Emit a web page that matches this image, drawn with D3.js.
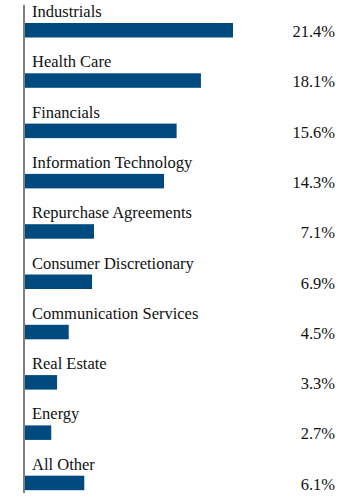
<!DOCTYPE html>
<html><head><meta charset="utf-8">
<script src="https://cdn.jsdelivr.net/npm/d3@7"></script>
<style>html,body{margin:0;padding:0;background:#fff;}svg{display:block;}
text{font-family:"Liberation Serif","Times New Roman","DejaVu Serif",serif;}</style>
</head><body>
<svg id="chart" width="360" height="497"></svg>
<script>
const categories = ["Industrials","Health Care","Financials","Information Technology","Repurchase Agreements","Consumer Discretionary","Communication Services","Real Estate","Energy","All Other"];
const values = [21.4,18.1,15.6,14.3,7.1,6.9,4.5,3.3,2.7,6.1];
const valueLabels = ["21.4%","18.1%","15.6%","14.3%","7.1%","6.9%","4.5%","3.3%","2.7%","6.1%"];

const svg = d3.select("#chart");
const x = d3.scaleLinear().domain([0, 21.4]).range([25, 233]);
const y = d3.scaleBand().domain(categories).range([-4, 499]).paddingInner(0).paddingOuter(0);
const barH = 14.5;
const barOff = 27;

const g = svg.append("g");
const rows = g.selectAll("g.row").data(categories).enter().append("g").attr("class","row");

rows.append("rect")
  .attr("x", x(0))
  .attr("y", d => y(d) + barOff)
  .attr("width", (d,i) => x(values[i]) - x(0))
  .attr("height", barH)
  .attr("fill", "#004a80");

rows.append("text")
  .attr("x", 32)
  .attr("y", d => y(d) + 21)
  .style("font-size", "16.5px")
  .attr("fill", "#111")
  .text(d => d);

rows.append("text")
  .attr("x", 335)
  .attr("y", d => y(d) + 41)
  .attr("text-anchor", "end")
  .style("font-size", "16.5px")
  .attr("fill", "#111")
  .text((d,i) => valueLabels[i]);

svg.append("line")
  .attr("x1", 24).attr("x2", 24)
  .attr("y1", 5).attr("y2", 493)
  .attr("stroke", "#555").attr("stroke-width", 1.5);
</script>
</body></html>
